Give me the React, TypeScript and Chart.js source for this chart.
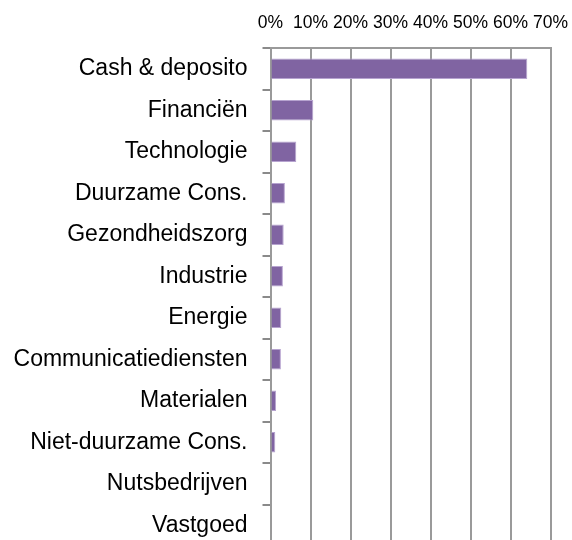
import React, { useEffect, useRef } from "react";
import { Chart, registerables } from "chart.js";

Chart.register(...registerables);

const categories = [
  "Cash & deposito",
  "Financiën",
  "Technologie",
  "Duurzame Cons.",
  "Gezondheidszorg",
  "Industrie",
  "Energie",
  "Communicatiediensten",
  "Materialen",
  "Niet-duurzame Cons.",
  "Nutsbedrijven",
  "Vastgoed",
];

const weights = [64.2, 10.7, 6.45, 3.6, 3.3, 3.1, 2.7, 2.6, 1.4, 1.2, 0.3, 0.2];

const xTicks = [0, 10, 20, 30, 40, 50, 60, 70];

export default function App() {
  const canvasRef = useRef<HTMLCanvasElement | null>(null);

  useEffect(() => {
    if (!canvasRef.current) return;
    const chart = new Chart(canvasRef.current, {
      type: "bar",
      data: {
        labels: categories,
        datasets: [
          {
            data: weights,
            backgroundColor: "#8064A2",
            borderColor: "#b6a3cf",
            borderWidth: 1,
            categoryPercentage: 1,
            barPercentage: 0.49,
          },
        ],
      },
      options: {
        indexAxis: "y",
        animation: false,
        responsive: false,
        maintainAspectRatio: false,
        layout: { padding: { top: 0, left: 0, right: 21.5, bottom: 14 } },
        plugins: {
          legend: { display: false },
          tooltip: { enabled: false },
        },
        scales: {
          x: {
            position: "top",
            min: 0,
            max: 70,
            afterBuildTicks: (scale: any) => {
              scale.ticks = xTicks.map((v) => ({ value: v }));
            },
            afterFit: (scale: any) => {
              scale.height = 48;
              scale.paddingLeft = 0;
              scale.paddingRight = 0;
            },
            ticks: {
              callback: (v: any) => v + "%",
              font: { family: "Liberation Sans", size: 17.5 },
              color: "#000",
              padding: 14,
              maxRotation: 0,
              autoSkip: false,
            },
            grid: {
              color: "#9a9a9a",
              lineWidth: 2,
              drawTicks: false,
            },
            border: { display: true, color: "#9a9a9a", width: 2 },
          },
          y: {
            afterFit: (scale: any) => {
              scale.width = 270.5;
              scale.paddingTop = 0;
              scale.paddingBottom = 0;
            },
            ticks: {
              font: { family: "Liberation Sans", size: 23 },
              color: "#000",
              padding: 15,
              autoSkip: false,
            },
            grid: {
              drawOnChartArea: false,
              drawTicks: true,
              tickLength: 8,
              color: "#8a8a8a",
              lineWidth: 2,
              offset: true,
            },
            border: { display: true, color: "#9a9a9a", width: 2 },
          },
        },
      },
    });
    return () => chart.destroy();
  }, []);

  return (
    <div
      style={{
        position: "fixed",
        left: 0,
        top: 0,
        width: 572,
        height: 540,
        overflow: "hidden",
        background: "#fff",
      }}
    >
      <canvas ref={canvasRef} width={572} height={560} style={{ display: "block" }} />
    </div>
  );
}
